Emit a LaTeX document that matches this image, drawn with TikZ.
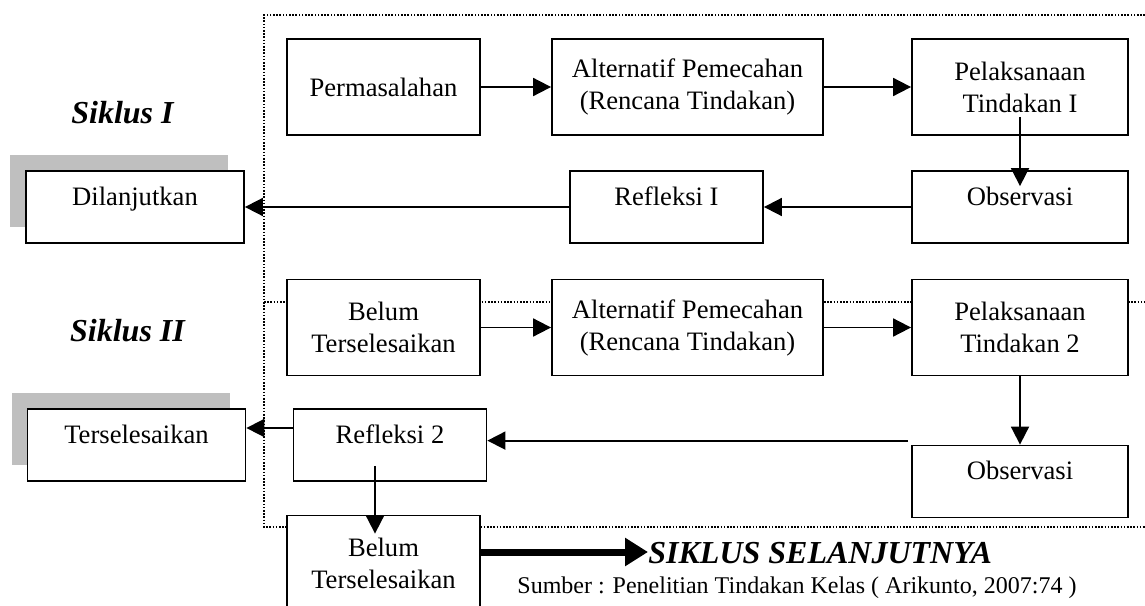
\documentclass[tikz,border=0pt]{standalone}
\usepackage{fontspec}
\setmainfont{Liberation Serif}
\usetikzlibrary{arrows.meta,shadows}

\begin{document}
\begin{tikzpicture}[x=0.5pt,y=-0.5pt]
				\tikzstyle{Kotak}	= [draw, line width=0.9pt, fill=white, inner sep=0pt, font=\fontsize{13.3}{16}\selectfont]
				\tikzstyle{Sedang}	= [minimum width=96.5pt]
				\tikzstyle{Lebar}	= [minimum width=135.5pt]
				\tikzstyle{Kanan}	= [minimum width=108pt]
				\tikzstyle{Kiri}	= [minimum width=109pt]
				\tikzstyle{Tinggi}	= [minimum height=48pt, align=center]
				\tikzstyle{Pendek}	= [minimum height=36pt, text height=10pt, text depth=12pt]
				\tikzstyle{Bayang}	= [drop shadow={shadow xshift=-8pt, shadow yshift=8pt, fill=black!25, opacity=1}]
				\tikzstyle{Panah}	= [-{Triangle[length=9pt,width=9pt]}, line width=0.9pt]
				\tikzstyle{Tebal}	= [-{Triangle[length=11.5pt,width=13.5pt]}, line width=3.5pt]
				\tikzstyle{Bingkai}	= [line width=0.8pt, dash pattern=on 0.8pt off 0.8pt]
				\tikzstyle{Judul}	= [inner sep=0pt, font=\fontsize{16}{19}\selectfont\bfseries\itshape]
				
				\useasboundingbox (0,0) rectangle (1145,605);
				
				% bingkai titik-titik
				\draw [Bingkai] (1145,15) -- (264,15) -- (264,527) -- (1145,527);
				\draw [Bingkai] (264,302) -- (1145,302);
				
				\node (sik1) at (122.5,113) [Judul] {Siklus I};
				\node (sik2) at (127.5,331) [Judul] {Siklus II};
				
				\node (perm) at (383.5,87) [Kotak][Sedang][Tinggi] {Permasalahan};
				\node (alt1) at (687.5,87) [Kotak][Lebar][Tinggi] {Alternatif Pemecahan\\(Rencana Tindakan)};
				\node (pel1) at (1020,87) [Kotak][Kanan][Tinggi] {Pelaksanaan\\Tindakan I};
				\node (obs1) at (1020,207) [Kotak][Kanan][Pendek] {Observasi};
				\node (ref1) at (666.5,207) [Kotak][Sedang][Pendek] {Refleksi I};
				\node (lanjut) at (135,207) [Kotak][Kiri][Pendek][Bayang] {Dilanjutkan};
				
				\node (belum1) at (383.5,327.5) [Kotak][Sedang][Tinggi] {Belum\\Terselesaikan};
				\node (alt2) at (687.5,327.5) [Kotak][Lebar][Tinggi] {Alternatif Pemecahan\\(Rencana Tindakan)};
				\node (pel2) at (1020,327.5) [Kotak][Kanan][Tinggi] {Pelaksanaan\\Tindakan 2};
				\node (obs2) at (1020,481.5) [Kotak][Kanan][Pendek] {Observasi};
				\node (ref2) at (390,445) [Kotak][Sedang][Pendek] {Refleksi 2};
				\node (selesai) at (136.5,445) [Kotak][Kiri][Pendek][Bayang] {Terselesaikan};
				\node (belum2) at (383.5,563.5) [Kotak][Sedang][Tinggi] {Belum\\Terselesaikan};
				
				\node (lanjutan) at (648,563) [Judul, anchor=base west] {SIKLUS SELANJUTNYA};
				\node (sumber) at (517,593) [inner sep=0pt, anchor=base west, font=\fontsize{12}{14}\selectfont] {Sumber : Penelitian Tindakan Kelas ( Arikunto, 2007:74 )};
				
				\coordinate (sudut) at ([xshift=-1.5pt,yshift=2pt]obs2.north west);
				
				\draw (perm) to (alt1) [Panah];
				\draw (alt1) to (pel1) [Panah];
				\draw ([yshift=9.5pt]pel1.south) to ([yshift=-8pt]obs1.north) [Panah];
				\draw (obs1) to (ref1) [Panah];
				\draw (ref1.west) to (lanjut.east) [Panah];
				
				\draw (belum1) to (alt2) [Panah];
				\draw (alt2) to (pel2) [Panah];
				\draw (pel2) to (obs2) [Panah];
				\draw (sudut) to (sudut -| ref2.east) [Panah];
				\draw ([yshift=8.5pt]ref2.west) to ([yshift=8.5pt]selesai.east) [Panah];
				\draw ([xshift=-7.5pt,yshift=8pt]ref2.south) to ([xshift=-4.25pt,yshift=-9.5pt]belum2.north) [Panah];
				\draw ([yshift=5.75pt]belum2.east) to ([yshift=5.5pt]lanjutan.base west) [Tebal];
			\end{tikzpicture}
\end{document}
